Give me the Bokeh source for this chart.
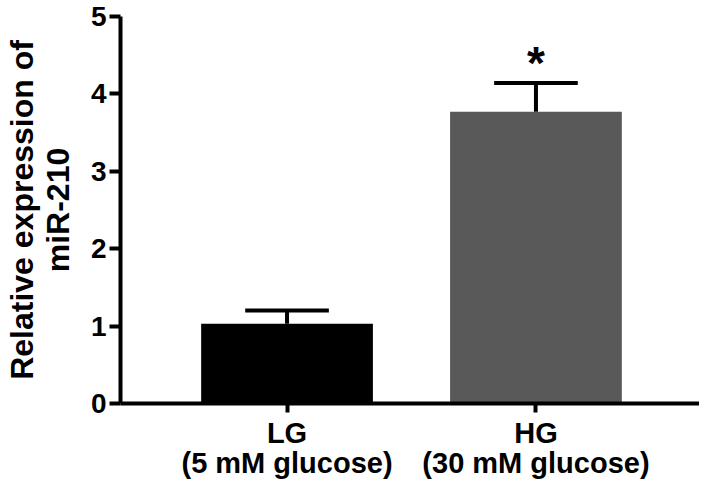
from bokeh.plotting import figure
from bokeh.models import Range1d, FixedTicker, ColumnDataSource
from bokeh.embed import file_html
from bokeh.resources import INLINE
from bokeh.core.properties import value

# Data
groups = ["LG", "HG"]
group_labels = ["LG\n(5 mM glucose)", "HG\n(30 mM glucose)"]
means = [1.03, 3.77]
errors = [0.17, 0.37]
bar_colors = ["#000000", "#595959"]
sig_marks = ["", "*"]
y_ticks = [0, 1, 2, 3, 4, 5]

xs = list(range(len(groups)))
FONT = "Liberation Sans"

p = figure(width=699, height=481, output_backend="svg", toolbar_location=None,
           x_range=Range1d(-0.669, 1.657), y_range=Range1d(0, 5),
           min_border_left=108, min_border_right=0, min_border_top=16, min_border_bottom=78)
p.outline_line_color = None
p.xgrid.visible = False
p.ygrid.visible = False
p.background_fill_color = "white"

src = ColumnDataSource(dict(x=xs, top=means, color=bar_colors,
                            err_top=[m + e for m, e in zip(means, errors)],
                            cap_l=[x - 0.168 for x in xs], cap_r=[x + 0.168 for x in xs]))
p.vbar(x="x", top="top", width=0.69, bottom=0, fill_color="color", line_color=None, source=src)
p.segment(x0="x", y0="top", x1="x", y1="err_top", line_color="black", line_width=4, source=src)
p.segment(x0="cap_l", y0="err_top", x1="cap_r", y1="err_top", line_color="black", line_width=4, source=src)

star_src = ColumnDataSource(dict(x=xs, y=[m + e + 0.26 for m, e in zip(means, errors)], t=sig_marks))
p.text(x="x", y="y", text="t", source=star_src, text_font=value(FONT), text_font_style="bold",
       text_font_size="46px", text_align="center", text_baseline="middle", text_color="black")

# Axes
for ax in (p.xaxis[0], p.yaxis[0]):
    ax.axis_line_width = 4
    ax.axis_line_color = "black"
    ax.major_tick_line_width = 4
    ax.major_tick_line_color = "black"
    ax.minor_tick_line_color = None
    ax.major_tick_in = 0
    ax.major_label_text_font = FONT
    ax.major_label_text_font_style = "bold"
    ax.major_label_text_color = "black"

p.yaxis.ticker = FixedTicker(ticks=y_ticks)
p.yaxis.major_tick_out = 11
p.yaxis.major_label_text_font_size = "28px"
p.yaxis.major_label_standoff = 3
p.yaxis.axis_label = "Relative expression of\nmiR-210"
p.yaxis.axis_label_text_font = FONT
p.yaxis.axis_label_text_font_style = "bold"
p.yaxis.axis_label_text_font_size = "32px"
p.yaxis.axis_label_text_line_height = 1.0
p.yaxis.axis_label_text_color = "black"
p.yaxis.axis_label_standoff = 12

p.xaxis.ticker = FixedTicker(ticks=xs)
p.xaxis.major_label_overrides = {x: lab for x, lab in zip(xs, group_labels)}
p.xaxis.major_tick_out = 9
p.xaxis.major_label_text_font_size = "29px"
p.xaxis.major_label_text_line_height = 0.95
p.xaxis.major_label_standoff = 4

open("out.html", "w").write(file_html(p, INLINE))
